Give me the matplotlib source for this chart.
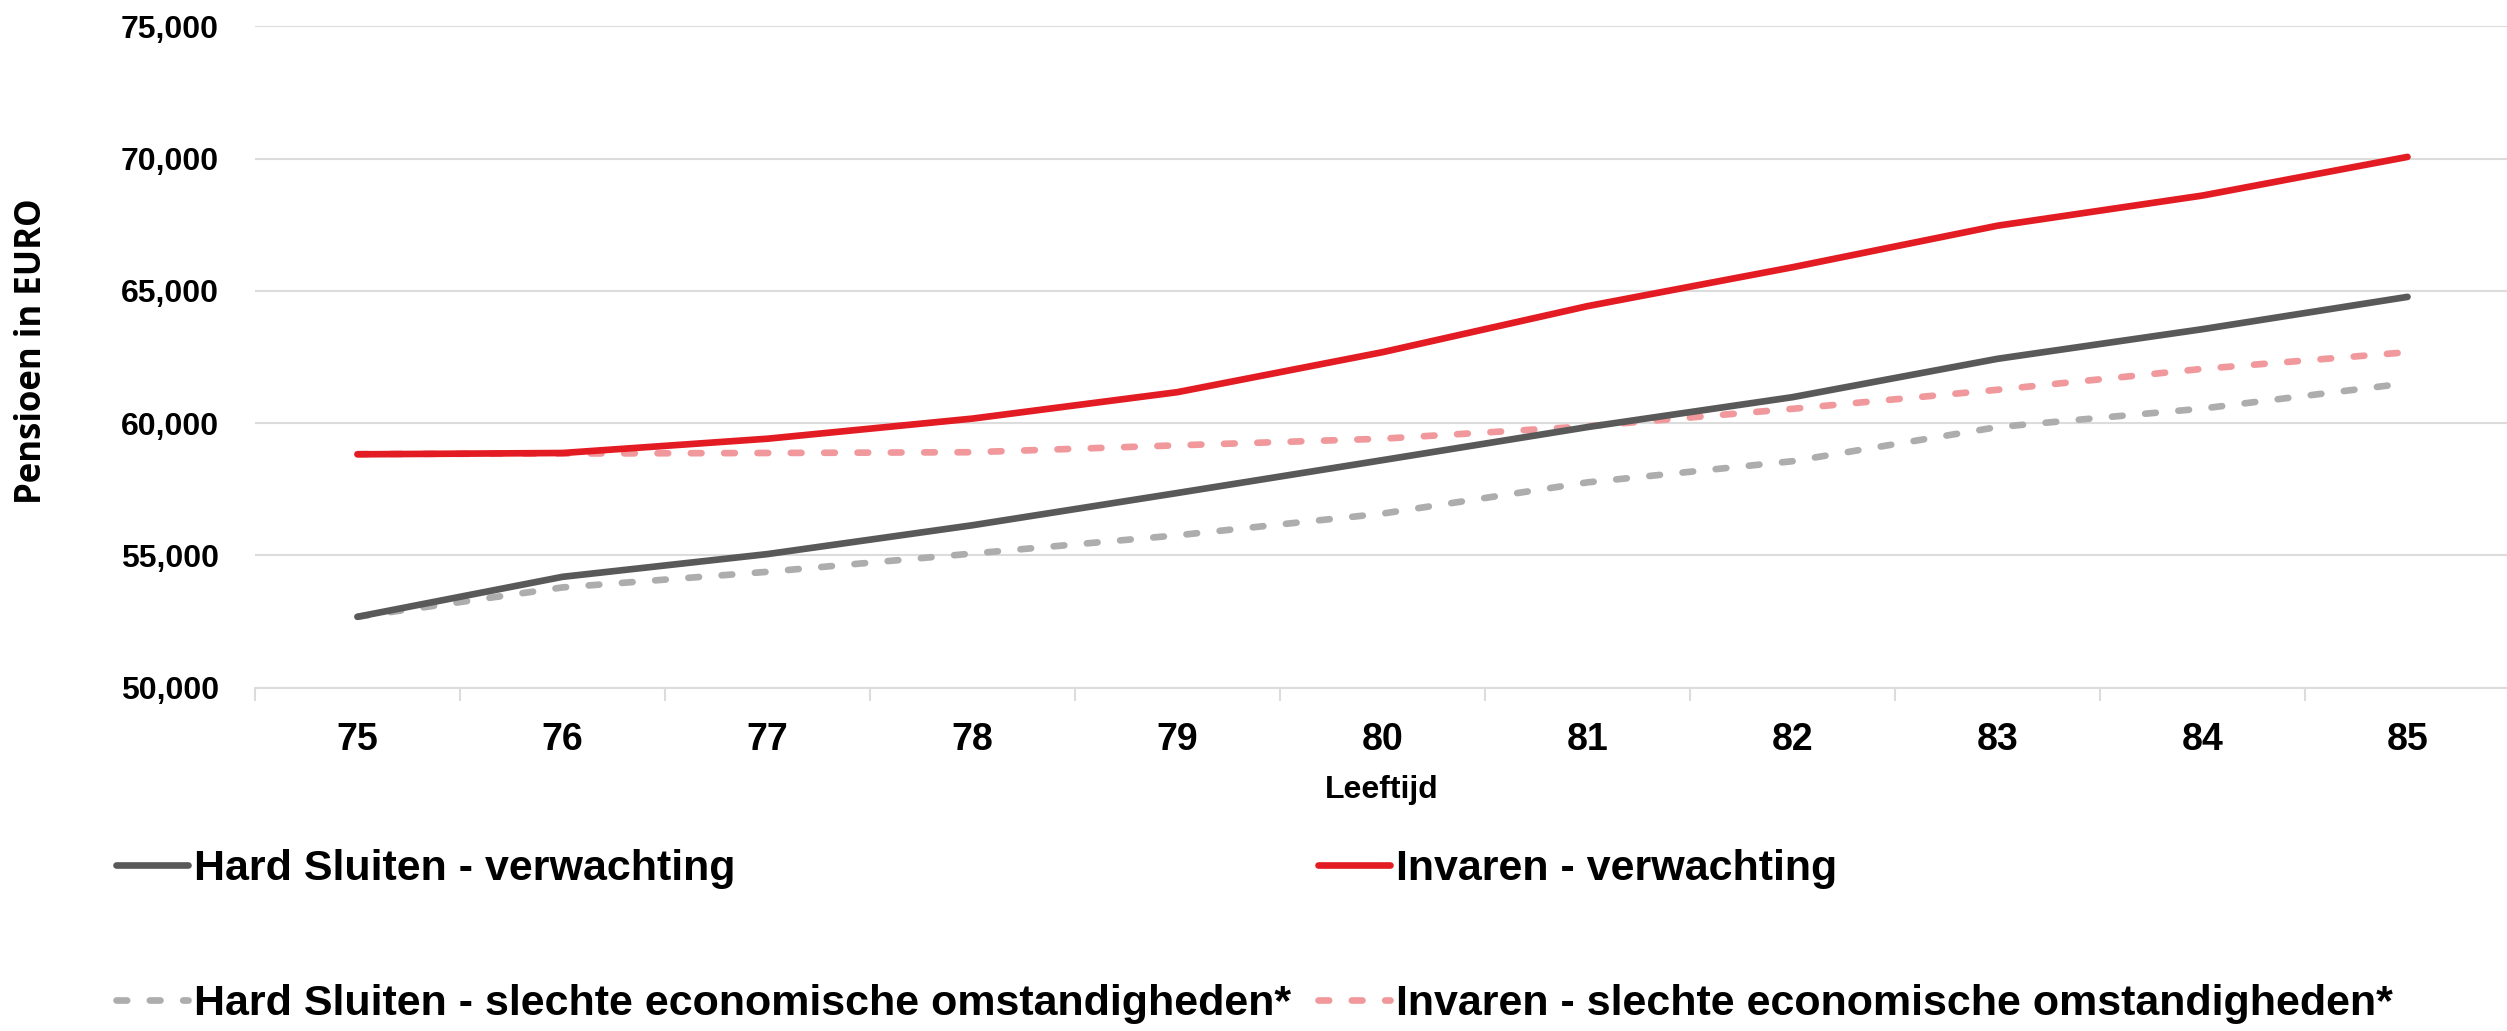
import numpy as np
import matplotlib
matplotlib.use("Agg")
import matplotlib.pyplot as plt

# Pension projection per age, four scenarios
AGES = [75, 76, 77, 78, 79, 80, 81, 82, 83, 84, 85]

HARD_SLUITEN_VERWACHTING = [52680, 54190, 55050, 56140, 57360, 58600, 59850, 60980, 62430, 63550, 64770]
INVAREN_VERWACHTING = [58820, 58870, 59410, 60170, 61170, 62680, 64420, 65890, 67460, 68600, 70060]
HARD_SLUITEN_SLECHT = [52680, 53790, 54380, 55070, 55760, 56580, 57760, 58560, 59850, 60550, 61510]
INVAREN_SLECHT = [58830, 58850, 58870, 58900, 59160, 59410, 59880, 60540, 61260, 62050, 62680]

LABELS = [
    "Hard Sluiten - verwachting",
    "Invaren - verwachting",
    "Hard Sluiten - slechte economische omstandigheden*",
    "Invaren - slechte economische omstandigheden*",
]

Y_TICKS = [50000, 55000, 60000, 65000, 70000, 75000]

DARK = "#595959"
RED = "#E31B23"
LIGHT_GREY = "#ADADAD"
LIGHT_RED = "#F0989B"
GRID = "#DCDCDC"

SANS = ["Liberation Sans", "DejaVu Sans"]

W, H = 2507, 1031
fig = plt.figure(figsize=(W / 100, H / 100), dpi=100)

# axes box in pixels: left 255, bottom 687.7, top 26.2, 205 px per category
ax = fig.add_axes([255 / W, 1 - 687.7 / H, 11 * 205 / W, (687.7 - 26.2) / H])

x = np.arange(len(AGES))
lw = 4.8
dash = (0, (1.6, 3.4))

l_hs, = ax.plot(x, HARD_SLUITEN_VERWACHTING, color=DARK, lw=lw, solid_capstyle="round", zorder=4)
l_inv, = ax.plot(x, INVAREN_VERWACHTING, color=RED, lw=lw, solid_capstyle="round", zorder=5)
l_hs_s, = ax.plot(x, HARD_SLUITEN_SLECHT, color=LIGHT_GREY, lw=lw, ls=dash, dash_capstyle="round", zorder=2)
l_inv_s, = ax.plot(x, INVAREN_SLECHT, color=LIGHT_RED, lw=lw, ls=dash, dash_capstyle="round", zorder=3)

ax.set_xlim(-0.5, len(AGES) - 0.5)
ax.set_ylim(50000, 75000)

ax.set_yticks(Y_TICKS)
ax.set_yticklabels([f"{v:,}" for v in Y_TICKS])
ax.yaxis.grid(True, color=GRID, lw=1.5)
ax.set_axisbelow(True)

ax.set_xticks(x)
ax.set_xticklabels([str(a) for a in AGES])
ax.set_xticks(np.arange(-0.5, len(AGES)), minor=True)
ax.tick_params(axis="x", which="major", length=0, pad=25)
ax.tick_params(axis="x", which="minor", length=9, width=1.5, color=GRID)
ax.tick_params(axis="y", length=0, pad=26)

for lab in ax.get_yticklabels():
    lab.set_family(SANS)
    lab.set_fontweight("bold")
    lab.set_fontsize(23)
for lab in ax.get_xticklabels():
    lab.set_family(SANS)
    lab.set_fontweight("bold")
    lab.set_fontsize(27)

for side in ["top", "right", "left"]:
    ax.spines[side].set_visible(False)
ax.spines["bottom"].set_color(GRID)
ax.spines["bottom"].set_linewidth(1.5)

fig.text(32 / W, 1 - 351 / H, "Pensioen in EURO", rotation=90, ha="center", va="center",
         fontsize=25, fontweight="bold", family=["Open Sans", "DejaVu Sans"])
fig.text(1382 / W, 1 - 790 / H, "Leeftijd", ha="center", va="center",
         fontsize=23, fontweight="bold", family=SANS)

# two legend columns, placed separately
leg_font = {"family": SANS, "weight": "bold", "size": 31}
leg_kw = dict(loc="upper left", frameon=False, prop=leg_font, handlelength=1.68,
              handletextpad=0.12, borderpad=0, borderaxespad=0, labelspacing=2.2)
leg1 = fig.legend([l_hs, l_hs_s], [LABELS[0], LABELS[2]],
                  bbox_to_anchor=(116 / W, 1 - 849 / H), **leg_kw)
leg2 = fig.legend([l_inv, l_inv_s], [LABELS[1], LABELS[3]],
                  bbox_to_anchor=(1318 / W, 1 - 849 / H), **leg_kw)

fig.savefig("out.png", dpi=100)
